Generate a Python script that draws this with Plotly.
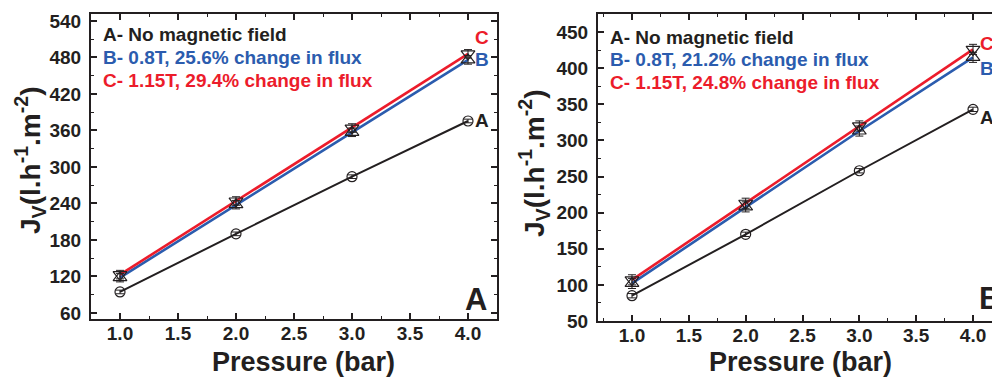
import plotly.graph_objects as go

pressure = [1.0, 2.0, 3.0, 4.0]

# Panel A
a_none = [94.5, 190, 284, 375.6]
a_b08 = [118, 238, 357, 476]
a_c115 = [123, 244, 364, 486]

# Panel B
b_none = [85, 170, 258, 343]
b_b08 = [102, 208, 313, 415]
b_c115 = [107, 213, 320, 426]

err_small = [3, 3, 3, 3]
err_big = [7, 7, 7, 7]

legend_a = ["A- No magnetic field", "B- 0.8T, 25.6% change in flux", "C- 1.15T, 29.4% change in flux"]
legend_b = ["A- No magnetic field", "B- 0.8T, 21.2% change in flux", "C- 1.15T, 24.8% change in flux"]

BLACK = "#231f20"
BLUE = "#2b5cae"
RED = "#ec1c2b"
FONT = "Arial, Liberation Sans, sans-serif"

W, H = 992, 378

def px(x):
    return x / W

def py(y):
    return 1 - y / H

fig = go.Figure()

def add_panel(xa, ya, none, b, c):
    fig.add_trace(go.Scatter(x=pressure, y=none, mode="lines+markers", xaxis=xa, yaxis=ya,
                             line=dict(color=BLACK, width=2),
                             marker=dict(symbol="circle-open", size=10, color=BLACK, line=dict(width=1.2)),
                             error_y=dict(type="data", array=err_small, color=BLACK, thickness=1, width=4),
                             showlegend=False))
    fig.add_trace(go.Scatter(x=pressure, y=b, mode="lines", xaxis=xa, yaxis=ya,
                             line=dict(color=BLUE, width=2.6), showlegend=False))
    fig.add_trace(go.Scatter(x=pressure, y=c, mode="lines", xaxis=xa, yaxis=ya,
                             line=dict(color=RED, width=2.6), showlegend=False))
    fig.add_trace(go.Scatter(x=pressure, y=b, mode="markers", xaxis=xa, yaxis=ya,
                             marker=dict(symbol="triangle-up-open", size=12, color=BLACK, line=dict(width=1.2)),
                             error_y=dict(type="data", array=err_big, color=BLACK, thickness=1, width=4),
                             showlegend=False))
    fig.add_trace(go.Scatter(x=pressure, y=c, mode="markers", xaxis=xa, yaxis=ya,
                             marker=dict(symbol="triangle-down-open", size=12, color=BLACK, line=dict(width=1.2)),
                             error_y=dict(type="data", array=err_big, color=BLACK, thickness=1, width=4),
                             showlegend=False))

add_panel("x", "y", a_none, a_b08, a_c115)
add_panel("x2", "y2", b_none, b_b08, b_c115)

tickfont = dict(family=FONT, size=19, color=BLACK, weight="bold")

common_x = dict(showline=True, linewidth=2, linecolor=BLACK, ticks="inside", ticklen=6, tickwidth=1.5,
                tickcolor=BLACK, dtick=0.5, tick0=1.0, tickformat=".1f", showgrid=False, zeroline=False,
                tickfont=tickfont, ticklabelstandoff=-4,
                minor=dict(ticks="inside", ticklen=3, tickwidth=1.2, tickcolor=BLACK, dtick=0.25, showgrid=False))
common_y = dict(showline=True, linewidth=2, linecolor=BLACK, ticks="inside", ticklen=6, tickwidth=1.5,
                tickcolor=BLACK, showgrid=False, zeroline=False, tickfont=tickfont, ticklabelstandoff=4)

fig.update_layout(
    width=W, height=H,
    margin=dict(l=0, r=0, t=0, b=0, autoexpand=False),
    paper_bgcolor="white", plot_bgcolor="white",
    xaxis=dict(common_x, domain=[px(91), px(497)], range=[0.75, 4.25], anchor="y", mirror="allticks"),
    yaxis=dict(common_y, domain=[py(319), py(14)], range=[50, 551.5], anchor="x", mirror="allticks",
               tick0=60, dtick=60,
               minor=dict(ticks="inside", ticklen=3, tickwidth=1.2, tickcolor=BLACK, dtick=30, showgrid=False)),
    xaxis2=dict(common_x, domain=[px(598), 1.0], range=[0.701, 4.167], anchor="y2", mirror="allticks"),
    yaxis2=dict(common_y, domain=[py(321), py(14)], range=[50, 475], anchor="x2", mirror=False,
                tick0=50, dtick=50,
                minor=dict(ticks="inside", ticklen=3, tickwidth=1.2, tickcolor=BLACK, dtick=25, showgrid=False)),
)

ann = []
def text(x, y, s, size, color=BLACK, xanchor="center", angle=0):
    ann.append(dict(x=px(x), y=py(y), xref="paper", yref="paper", text=s, showarrow=False,
                    xanchor=xanchor, yanchor="middle", textangle=angle,
                    font=dict(family=FONT, size=size, color=color, weight="bold")))

colors = [BLACK, BLUE, RED]
for i, s in enumerate(legend_a):
    text(101, 35 + 22.5 * i, s, 19, colors[i], "left")
for i, s in enumerate(legend_b):
    text(608, 37 + 22.5 * i, s, 19, colors[i], "left")

# end labels anchored on last points
def endlabel(xa, ya, xval, yval, s, color, yshift):
    ann.append(dict(x=xval, y=yval, xref=xa, yref=ya, text=s, showarrow=False, xanchor="left",
                    yanchor="middle", xshift=5, yshift=yshift,
                    font=dict(family=FONT, size=19, color=color, weight="bold")))

endlabel("x", "y", pressure[-1], a_c115[-1], "C", RED, 16)
endlabel("x", "y", pressure[-1], a_b08[-1], "B", BLUE, 0)
endlabel("x", "y", pressure[-1], a_none[-1], "A", BLACK, 0)
endlabel("x2", "y2", pressure[-1], b_c115[-1], "C", RED, 6)
endlabel("x2", "y2", pressure[-1], b_b08[-1], "B", BLUE, -11)
endlabel("x2", "y2", pressure[-1], b_none[-1], "A", BLACK, -8)

text(476, 299, "A", 31)
text(977, 298, "B", 31, xanchor="left")

text(303, 362, "Pressure (bar)", 27)
text(800, 362, "Pressure (bar)", 27)

ytitle = "J<sub>V</sub>(l.h<sup>-1</sup>.m<sup>-2</sup>)"
text(30, 160, ytitle, 28, angle=-90)
text(534, 163, ytitle, 28, angle=-90)

fig.update_layout(annotations=ann)

fig.write_html("out.html", config={"displayModeBar": False},
               post_script="document.body.style.margin='0px';document.body.style.overflow='hidden';")
